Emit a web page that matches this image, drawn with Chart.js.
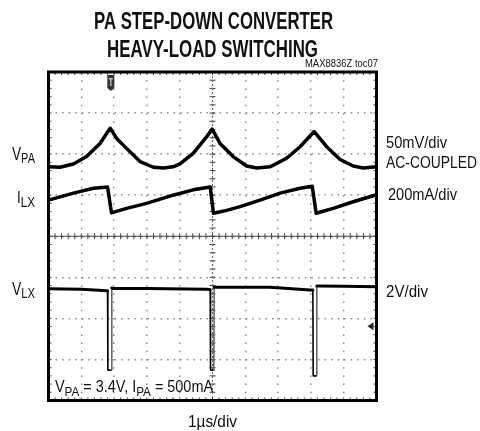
<!DOCTYPE html>
<html>
<head>
<meta charset="utf-8">
<title>PA Step-Down Converter Heavy-Load Switching</title>
<script src="https://cdn.jsdelivr.net/npm/chart.js@4.4.1/dist/chart.umd.min.js"></script>
<style>
    html, body { margin: 0; padding: 0; background: #fff; }
    canvas { display: block; }
</style>
</head>
<body>
<canvas id="scope" width="480" height="431"></canvas>
<script>
// Scope screen: 10 x 8 divisions
const xDivs = 10;
const yDivs = 8;

// VPA ripple, 50mV/div AC-coupled (x: div, y: div from bottom)
const vpaTime  = [0, 0.35, 0.76, 1.16, 1.57, 1.88, 2.1, 2.38, 2.79, 3.2, 3.5, 3.8, 4.01, 4.41, 4.82, 4.99, 5.23, 5.63, 6.04, 6.35, 6.75, 7.26, 7.67, 8.1, 8.48, 8.89, 9.29, 9.6, 10];
const vpaLevel = [5.69, 5.68, 5.76, 5.94, 6.26, 6.63, 6.36, 6.14, 5.82, 5.68, 5.66, 5.69, 5.76, 6.02, 6.42, 6.61, 6.26, 5.94, 5.71, 5.66, 5.69, 5.90, 6.18, 6.55, 6.18, 5.87, 5.71, 5.66, 5.69];

// ILX inductor current, 200mA/div
const ilxTime  = [0, 0.76, 1.37, 1.8, 1.92, 2.38, 2.99, 3.8, 4.41, 4.93, 5.03, 5.43, 5.84, 6.45, 7.06, 7.67, 8.04, 8.16, 8.68, 9.29, 10];
const ilxLevel = [4.88, 5.05, 5.17, 5.20, 4.57, 4.68, 4.80, 5.00, 5.13, 5.20, 4.56, 4.63, 4.72, 4.88, 5.05, 5.17, 5.22, 4.56, 4.68, 4.84, 5.01];

// VLX switching node, 2V/div
const vlxTime  = [0, 1.0, 1.78, 1.80, 1.81, 1.91, 1.93, 1.97, 3.0, 4.82, 4.93, 4.94, 5.04, 5.05, 5.23, 6.75, 7.97, 8.06, 8.07, 8.17, 8.18, 8.23, 9.0, 10];
const vlxLevel = [2.72, 2.71, 2.67, 2.67, 0.74, 0.74, 2.74, 2.73, 2.73, 2.71, 2.70, 0.74, 0.74, 2.76, 2.76, 2.76, 2.69, 2.69, 0.60, 0.60, 2.79, 2.79, 2.78, 2.77];

// markers on the screen edge (div)
const triggerAt = 1.9;
const groundAt = 1.81;

const fontFamily = '"Liberation Sans Narrow", "Liberation Sans", Arial, sans-serif';

function toPoints(xs, ys) {
    return xs.map((v, i) => ({ x: v, y: ys[i] }));
}

// draw a run of text parts squeezed to a given width
// parts: [text, size, dy, bold]
function drawFitted(ctx, parts, x, y, width) {
    let natural = 0;
    parts.forEach(p => {
        ctx.font = (p[3] ? "bold " : "") + p[1] + "px " + fontFamily;
        natural += ctx.measureText(p[0]).width;
    });
    const s = width / natural;
    ctx.save();
    ctx.translate(x, y);
    ctx.scale(s, 1);
    ctx.fillStyle = "#111";
    ctx.textBaseline = "alphabetic";
    ctx.textAlign = "left";
    let cur = 0;
    parts.forEach(p => {
        ctx.font = (p[3] ? "bold " : "") + p[1] + "px " + fontFamily;
        ctx.fillText(p[0], cur, p[2]);
        cur += ctx.measureText(p[0]).width;
    });
    ctx.restore();
}

const scopeDecor = {
    id: "scopeDecor",
    beforeDatasetsDraw(chart) {
        const { ctx, chartArea: a, scales: { x, y } } = chart;
        const cx = x.getPixelForValue(xDivs / 2);
        const cy = y.getPixelForValue(yDivs / 2);
        ctx.save();
        ctx.strokeStyle = "#444";
        ctx.lineWidth = 1;
        ctx.beginPath();
        ctx.moveTo(a.left, cy);
        ctx.lineTo(a.right, cy);
        for (let i = 0; i <= xDivs * 5; i++) {
            const px = x.getPixelForValue(i / 5);
            ctx.moveTo(px, cy - 3); ctx.lineTo(px, cy + 3);
            ctx.moveTo(px, a.top); ctx.lineTo(px, a.top + 3);
            ctx.moveTo(px, a.bottom); ctx.lineTo(px, a.bottom - 3);
        }
        for (let i = 0; i <= yDivs * 5; i++) {
            const py = y.getPixelForValue(i / 5);
            ctx.moveTo(cx - 3, py); ctx.lineTo(cx + 3, py);
            ctx.moveTo(a.left, py); ctx.lineTo(a.left + 3, py);
            ctx.moveTo(a.right, py); ctx.lineTo(a.right - 3, py);
        }
        ctx.stroke();
        ctx.setLineDash([2, 2]);
        ctx.strokeStyle = "#666";
        ctx.beginPath();
        ctx.moveTo(cx, a.top);
        ctx.lineTo(cx, a.bottom);
        ctx.stroke();
        ctx.restore();
    },
    afterDraw(chart) {
        const { ctx, chartArea: a, scales: { x, y } } = chart;
        ctx.save();
        // screen frame
        ctx.strokeStyle = "#000";
        ctx.lineWidth = 3;
        ctx.strokeRect(a.left, a.top, a.right - a.left, a.bottom - a.top);

        // trigger marker
        const tx = x.getPixelForValue(triggerAt);
        ctx.fillStyle = "#333";
        ctx.beginPath();
        ctx.moveTo(tx - 3.5, a.top + 3);
        ctx.lineTo(tx + 3.5, a.top + 3);
        ctx.lineTo(tx + 3.5, a.top + 16);
        ctx.lineTo(tx, a.top + 19);
        ctx.lineTo(tx - 3.5, a.top + 16);
        ctx.closePath();
        ctx.fill();
        ctx.fillStyle = "#bbb";
        ctx.fillRect(tx - 2, a.top + 6, 4, 1.5);
        ctx.fillRect(tx - 0.7, a.top + 6, 1.4, 8);

        // ground marker
        const gy = y.getPixelForValue(groundAt);
        ctx.fillStyle = "#222";
        ctx.beginPath();
        ctx.moveTo(a.right - 9, gy);
        ctx.lineTo(a.right - 3, gy - 4);
        ctx.lineTo(a.right - 3, gy + 4);
        ctx.closePath();
        ctx.fill();
        ctx.restore();

        // titles
        drawFitted(ctx, [["PA STEP-DOWN CONVERTER", 24, 0, true]], 94, 29, 239);
        drawFitted(ctx, [["HEAVY-LOAD SWITCHING", 24, 0, true]], 107, 56.5, 211);
        drawFitted(ctx, [["MAX8836Z toc07", 10, 0, false]], 305, 67, 73);

        // channel names
        drawFitted(ctx, [["V", 18, 0, false], ["PA", 14.5, 2.5, false]], 12, 160, 23);
        drawFitted(ctx, [["I", 16.5, 0, false], ["LX", 14.5, 4, false]], 17, 203, 18);
        drawFitted(ctx, [["V", 18, 0, false], ["LX", 14.5, 3.3, false]], 12, 295, 23);

        // scale labels
        drawFitted(ctx, [["50mV/div", 16, 0, false]], 386, 148.3, 61);
        drawFitted(ctx, [["AC-COUPLED", 16, 0, false]], 386, 168.3, 91);
        drawFitted(ctx, [["200mA/div", 16, 0, false]], 388, 200, 69);
        drawFitted(ctx, [["2V/div", 16, 0, false]], 386, 296.7, 42);

        // conditions and timebase
        drawFitted(ctx, [
            ["V", 16, 0, false], ["PA", 13, 4, false], [" = 3.4V, ", 16, 0, false],
            ["I", 16, 0, false], ["PA", 13, 4, false], [" = 500mA", 16, 0, false]
        ], 55, 392, 158);
        drawFitted(ctx, [["1\u00b5s/div", 16, 0, false]], 188, 426.5, 49);
    }
};

const traceStyle = {
    borderColor: "#000",
    borderWidth: 3.5,
    pointRadius: 0,
    tension: 0,
    fill: false,
    borderJoinStyle: "round",
    borderCapStyle: "round"
};

new Chart(document.getElementById("scope").getContext("2d"), {
    type: "line",
    data: {
        datasets: [
            Object.assign({ label: "VPA", data: toPoints(vpaTime, vpaLevel) }, traceStyle),
            Object.assign({ label: "ILX", data: toPoints(ilxTime, ilxLevel) }, traceStyle),
            Object.assign({
                label: "VLX",
                data: toPoints(vlxTime, vlxLevel),
                segment: {
                    borderWidth: c => (c.p0.parsed.y < 2 || c.p1.parsed.y < 2) ? 1.6 : 3,
                    borderColor: c => (c.p1.parsed.y - c.p0.parsed.y > 1) ? "#666" : "#000"
                }
            }, traceStyle, { borderWidth: 3 })
        ]
    },
    options: {
        responsive: false,
        animation: false,
        events: [],
        layout: {
            padding: { left: 48.5, right: 103.5, top: 72, bottom: 30.5 }
        },
        plugins: {
            legend: { display: false },
            tooltip: { enabled: false }
        },
        scales: {
            x: {
                type: "linear",
                min: 0,
                max: xDivs,
                ticks: { display: false, stepSize: 1 },
                grid: { color: "#8a8a8a", lineWidth: 1.5, drawTicks: false },
                border: { display: false, dash: [1.5, 6.7] }
            },
            y: {
                type: "linear",
                min: 0,
                max: yDivs,
                ticks: { display: false, stepSize: 1 },
                grid: { color: "#8a8a8a", lineWidth: 1.5, drawTicks: false },
                border: { display: false, dash: [1.5, 5.06] }
            }
        }
    },
    plugins: [scopeDecor]
});
</script>
</body>
</html>
